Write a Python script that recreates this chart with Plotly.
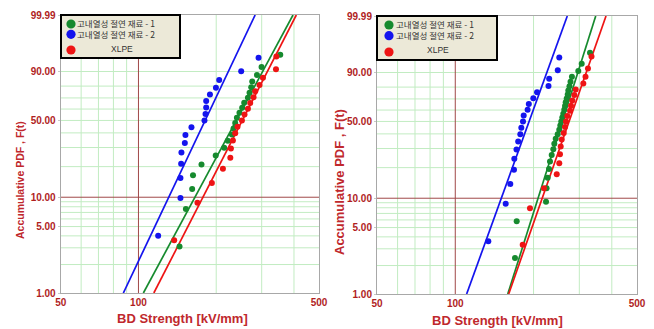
import numpy as np
import plotly.graph_objects as go

# ---------------- data ----------------
# Left panel : breakdown strength [kV/mm] and cumulative probability [%]
L_mat1_x = [144.2, 152.6, 161.4, 162.6, 175.4, 199.1, 214.7, 221.6, 230.0, 233.4, 236.9,
            240.5, 246.1, 252.1, 256.7, 265.3, 269.2, 273.3, 275.7, 287.6, 299.6, 354.0]
L_mat1_F = [3.1, 7.6, 12.1, 16.5, 21.0, 25.4, 29.9, 34.4, 38.8, 43.3, 47.8,
            52.2, 56.7, 61.2, 65.6, 70.1, 74.6, 79.0, 83.5, 87.9, 92.4, 96.9]
L_mat2_x = [119.2, 145.4, 145.4, 146.3, 146.7, 151.2, 152.0, 160.4, 180.1, 181.8, 182.9,
            182.9, 189.1, 199.5, 205.4, 249.9, 291.7]
L_mat2_F = [4.0, 9.8, 15.5, 21.3, 27.0, 32.8, 38.5, 44.3, 50.0, 55.7, 61.5,
            67.2, 73.0, 78.7, 84.5, 90.2, 96.0]
L_xlpe_x = [137.5, 169.2, 192.4, 212.3, 226.8, 228.0, 232.1, 236.9, 241.8, 251.5, 257.4,
            265.3, 270.8, 278.9, 283.2, 294.3, 303.4, 340.7, 342.0]
L_xlpe_F = [3.6, 8.8, 13.9, 19.1, 24.2, 29.4, 34.5, 39.7, 44.8, 50.0, 55.2,
            60.3, 65.5, 70.6, 75.8, 80.9, 86.1, 91.2, 96.4]

# Right panel
R_mat1_x = [169.7, 172.3, 223.4, 224.5, 226.7, 229.4, 231.4, 234.9, 238.3, 240.4, 243.4,
            247.7, 251.2, 253.5, 255.7, 258.0, 260.3, 262.6, 264.3, 265.9, 268.3, 270.7,
            272.1, 275.0, 277.5, 281.0, 297.3, 306.4, 329.8]
R_mat1_F = [2.4, 5.8, 9.2, 12.6, 16.0, 19.4, 22.8, 26.2, 29.6, 33.0, 36.4,
            39.8, 43.2, 46.6, 50.0, 53.4, 56.8, 60.2, 63.6, 67.0, 70.4, 73.8,
            77.2, 80.6, 84.0, 87.4, 90.8, 94.2, 97.6]
R_mat2_x = [134.0, 156.3, 162.8, 168.2, 168.7, 172.0, 174.6, 177.9, 179.5, 182.2, 183.3,
            189.8, 191.8, 199.6, 206.3, 228.3, 229.7, 247.9, 251.2]
R_mat2_F = [3.6, 8.8, 13.9, 19.1, 24.2, 29.4, 34.5, 39.7, 44.8, 50.0, 55.2,
            60.3, 65.5, 70.6, 75.8, 80.9, 86.1, 91.2, 96.4]
R_xlpe_x = [181.7, 193.8, 219.4, 245.6, 251.2, 252.8, 254.4, 256.7, 261.3, 264.3, 266.6,
            269.7, 276.3, 278.7, 282.0, 287.0, 290.6, 310.8, 316.9, 323.9, 334.2]
R_xlpe_F = [3.3, 7.9, 12.6, 17.3, 22.0, 26.6, 31.3, 36.0, 40.7, 45.3, 50.0,
            54.7, 59.3, 64.0, 68.7, 73.4, 78.0, 82.7, 87.4, 92.1, 96.7]

# Weibull fit lines: x at F = 1 % and F = 99.99 %
FIT_F = [1.0, 99.99]
L_fit_mat1 = [104.5, 396.6]
L_fit_mat2 = [87.4, 283.0]
L_fit_xlpe = [114.7, 408.4]
R_fit_mat1 = [159.2, 346.9]
R_fit_mat2 = [110.6, 269.7]
R_fit_xlpe = [160.5, 380.0]

# axis ticks and grid
x_tick_vals = [50, 100, 500]
x_tick_text = ["50", "100", "500"]
x_grid = [60, 70, 80, 90, 200, 300, 400]
x_ref = 100
y_tick_vals = [1, 5, 10, 50, 90, 99.99]
y_tick_text = ["1.00", "5.00", "10.00", "50.00", "90.00", "99.99"]
y_grid = [2, 3, 4, 5, 6, 7, 8, 9, 20, 30, 40, 50, 60, 70, 80, 90]
y_ref = 10

series_names = ["고내열성 절연 재료 - 1", "고내열성 절연 재료 - 2", "XLPE"]
colors = ["#168A2E", "#1414EE", "#EE1414"]


def wb(F):
    """Weibull probability-paper scale."""
    return np.log(-np.log(1.0 - np.asarray(F, dtype=float) / 100.0))


W, H = 654, 329
fig = go.Figure()

panels = [
    dict(xa="x", ya="y",
         pts=[(L_mat1_x, L_mat1_F), (L_mat2_x, L_mat2_F), (L_xlpe_x, L_xlpe_F)],
         fits=[L_fit_mat1, L_fit_mat2, L_fit_xlpe]),
    dict(xa="x2", ya="y2",
         pts=[(R_mat1_x, R_mat1_F), (R_mat2_x, R_mat2_F), (R_xlpe_x, R_xlpe_F)],
         fits=[R_fit_mat1, R_fit_mat2, R_fit_xlpe]),
]

for p in panels:
    for k in range(3):
        fig.add_trace(go.Scatter(x=p["fits"][k], y=wb(FIT_F), mode="lines",
                                 line=dict(color=colors[k], width=1.7),
                                 xaxis=p["xa"], yaxis=p["ya"], showlegend=False,
                                 hoverinfo="skip"))
    for k in range(3):
        xs, fs = p["pts"][k]
        fig.add_trace(go.Scatter(x=xs, y=wb(fs), mode="markers",
                                 marker=dict(color=colors[k], size=6),
                                 xaxis=p["xa"], yaxis=p["ya"], showlegend=False,
                                 name=series_names[k], cliponaxis=True))

# plot-area geometry in pixels
L_box = dict(x0=60.7, x1=319.0, y0=15.0, y1=293.0)
R_box = dict(x0=377.0, x1=637.0, y0=16.0, y1=294.0)


def dom_x(b):
    return [b["x0"] / W, b["x1"] / W]


def dom_y(b):
    return [1 - b["y1"] / H, 1 - b["y0"] / H]


tick_red = "#B01E1E"
grid_green = "#C2ECC2"
frame = "#A8A8A8"

xcommon = dict(type="log", range=[np.log10(50), np.log10(500)],
               tickmode="array", tickvals=x_tick_vals, ticktext=x_tick_text,
               showgrid=False,
               showline=True, linecolor=frame, linewidth=1, mirror=True,
               ticks="", zeroline=False, automargin=False,
               tickfont=dict(family="Liberation Sans, Arial", size=10,
                             color=tick_red, weight="bold"))
ycommon = dict(range=[float(wb(1.0)), float(wb(99.99))],
               tickmode="array", tickvals=list(wb(y_tick_vals)), ticktext=y_tick_text,
               showgrid=False,
               showline=True, linecolor=frame, linewidth=1, mirror=True,
               ticks="outside", ticklen=2, tickcolor="#C8C8C8", zeroline=False,
               automargin=False,
               tickfont=dict(family="Liberation Sans, Arial", size=10,
                             color=tick_red, weight="bold"))

fig.update_layout(
    width=W, height=H, autosize=False, margin=dict(l=0, r=0, t=0, b=0, pad=0),
    paper_bgcolor="white", plot_bgcolor="white", showlegend=False,
    xaxis=dict(domain=dom_x(L_box), anchor="y", **xcommon),
    yaxis=dict(domain=dom_y(L_box), anchor="x", **ycommon),
    xaxis2=dict(domain=dom_x(R_box), anchor="y2", **xcommon),
    yaxis2=dict(domain=dom_y(R_box), anchor="x2", **ycommon),
)

# grid lines (light green) and dark red reference lines (100 kV/mm and 10 %)
ref = "#A04848"
for xa, ya in (("x", "y"), ("x2", "y2")):
    for gx in x_grid:
        fig.add_shape(type="line", xref=xa, yref=f"{ya} domain", x0=gx, x1=gx, y0=0, y1=1,
                      line=dict(color=grid_green, width=1), layer="below")
    for gy in y_grid:
        v = float(wb(gy))
        fig.add_shape(type="line", xref=f"{xa} domain", yref=ya, x0=0, x1=1, y0=v, y1=v,
                      line=dict(color=grid_green, width=1), layer="below")
    fig.add_shape(type="line", xref=xa, yref=f"{ya} domain", x0=x_ref, x1=x_ref, y0=0, y1=1,
                  line=dict(color=ref, width=1), layer="below")
    fig.add_shape(type="line", xref=f"{xa} domain", yref=ya, x0=0, x1=1,
                  y0=float(wb(y_ref)), y1=float(wb(y_ref)),
                  line=dict(color=ref, width=1), layer="below")


# legends drawn as boxes
def px(x):
    return x / W


def py(y):
    return 1 - y / H


def legend(bx0, bx1, by0, by1, cx, cys, tx, tys, xlpe_cx):
    fig.add_shape(type="rect", xref="paper", yref="paper",
                  x0=px(bx0), x1=px(bx1), y0=py(by1), y1=py(by0),
                  fillcolor="#ECE9D8", line=dict(color="black", width=2), layer="above")
    for k in range(3):
        r = 4.6
        fig.add_shape(type="circle", xref="paper", yref="paper",
                      x0=px(cx - r), x1=px(cx + r), y0=py(cys[k] + r), y1=py(cys[k] - r),
                      fillcolor=colors[k], line=dict(color=colors[k], width=0),
                      layer="above")
    for k in range(3):
        if k < 2:
            fig.add_annotation(x=px(tx), y=py(tys[k]), xref="paper", yref="paper",
                               text=series_names[k], showarrow=False,
                               xanchor="left", yanchor="middle", borderpad=0,
                               font=dict(family="Noto Sans CJK KR", size=8.5, color="#333333"))
        else:
            fig.add_annotation(x=px(xlpe_cx), y=py(tys[k]), xref="paper", yref="paper",
                               text=series_names[k], showarrow=False,
                               xanchor="center", yanchor="middle", borderpad=0,
                               font=dict(family="Liberation Sans", size=8.5, color="#333333"))


legend(61, 180, 15, 58, 71, [24, 34.3, 50], 76, [22.8, 33.8, 49.3], 121.7)
legend(377, 497, 16, 60, 389, [25, 35.7, 52], 395.5, [23.8, 34.8, 49.5], 438.3)

title_red = "#C0282D"
# x axis titles
for cx, cy in ((182, 318), (497.5, 320)):
    fig.add_annotation(x=px(cx), y=py(cy), xref="paper", yref="paper",
                       text="BD Strength [kV/mm]", showarrow=False,
                       xanchor="center", yanchor="middle",
                       font=dict(family="Liberation Sans, Arial",
                                 size=13, color=title_red, weight="bold"))
# y axis titles
fig.add_annotation(x=px(20), y=py(180), xref="paper", yref="paper",
                   text="Accumulative PDF , F(t)", showarrow=False, textangle=-90,
                   xanchor="center", yanchor="middle",
                   font=dict(family="Liberation Sans, Arial",
                             size=10.5, color=title_red, weight="bold"))
fig.add_annotation(x=px(339), y=py(182), xref="paper", yref="paper",
                   text="Accumulative PDF , F(t)", showarrow=False, textangle=-90,
                   xanchor="center", yanchor="middle",
                   font=dict(family="Liberation Sans, Arial", size=13,
                             color=title_red, weight="bold"))

fig.write_html("out.html", config={"displayModeBar": False},
               post_script="document.body.style.margin='0px';")
